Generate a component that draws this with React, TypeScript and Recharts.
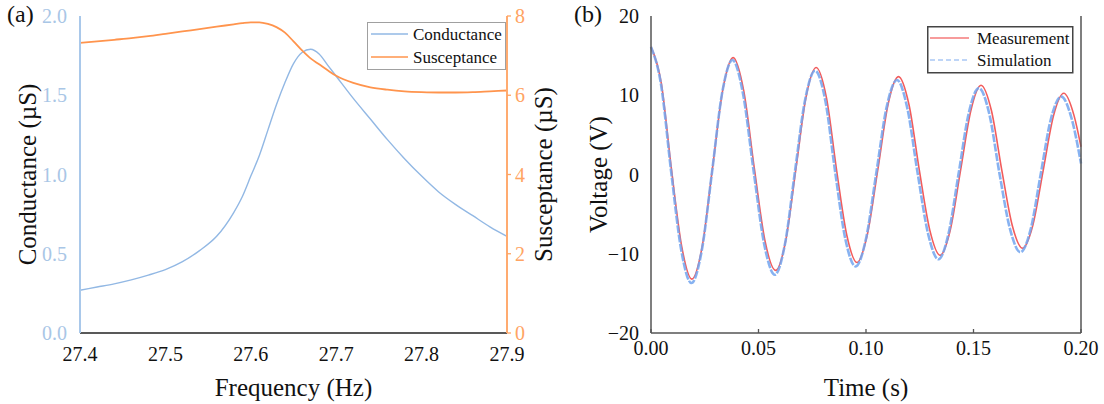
import { LineChart, Line, XAxis, YAxis, Legend, Label } from "recharts";

const FONT = '"Liberation Serif", "Times New Roman", serif';

// (a) admittance sweep
const freq = [
  27.4, 27.42, 27.44, 27.46, 27.48, 27.5, 27.52, 27.54, 27.56, 27.58, 27.59, 27.6, 27.61, 27.62,
  27.63, 27.64, 27.65, 27.66, 27.67, 27.68, 27.69, 27.7, 27.72, 27.74, 27.76, 27.78, 27.8, 27.82,
  27.84, 27.86, 27.88, 27.9,
];
const conductance = [
  0.27, 0.29, 0.31, 0.335, 0.365, 0.4, 0.45, 0.52, 0.61, 0.76, 0.86, 0.99, 1.12, 1.28, 1.44, 1.58,
  1.7, 1.77, 1.79, 1.76, 1.69, 1.62, 1.48, 1.35, 1.22, 1.1, 0.99, 0.89, 0.81, 0.74, 0.67, 0.61,
];
const susceptance = [
  7.32, 7.36, 7.4, 7.44, 7.49, 7.55, 7.61, 7.67, 7.73, 7.79, 7.82, 7.84, 7.84, 7.8, 7.72, 7.58,
  7.36, 7.13, 6.93, 6.78, 6.63, 6.49, 6.31, 6.2, 6.14, 6.1, 6.08, 6.07, 6.07, 6.08, 6.1, 6.12,
];
const freqTicks = [27.4, 27.5, 27.6, 27.7, 27.8, 27.9];
const freqInnerTicks = [27.5, 27.6, 27.7, 27.8];
const condTicks = [0, 0.5, 1, 1.5, 2];
const suscTicks = [0, 2, 4, 6, 8];

// (b) free decay
const measTime = [
  0, 0.0048, 0.0095, 0.0143, 0.019, 0.0238, 0.0286, 0.0334, 0.0382, 0.0431, 0.0481, 0.053, 0.058,
  0.0627, 0.0674, 0.0721, 0.0768, 0.0816, 0.0863, 0.0911, 0.0958, 0.1006, 0.1055, 0.1103, 0.1151,
  0.12, 0.1248, 0.1297, 0.1345, 0.1392, 0.144, 0.1488, 0.1535, 0.1583, 0.1632, 0.168, 0.1728,
  0.1776, 0.1824, 0.1872, 0.192, 0.1968, 0.2,
];
const measVolt = [
  16.1, 11.5, 0.7, -9.1, -13.2, -9.1, 0.8, 10.7, 14.75, 10.6, 0.7, -8.35, -12.1, -8.3, 0.7, 9.75,
  13.5, 9.7, 0.6, -7.7, -11.1, -7.6, 0.6, 8.9, 12.35, 8.8, 0.55, -7.05, -10.2, -7.0, 0.55, 8.1,
  11.26, 8.1, 0.5, -6.4, -9.3, -6.4, 0.5, 7.4, 10.25, 7.4, 3.5,
];
const simTime = [
  0, 0.0047, 0.0094, 0.0141, 0.0188, 0.0236, 0.0284, 0.0331, 0.0379, 0.0428, 0.0478, 0.0527,
  0.0576, 0.0623, 0.0669, 0.0716, 0.0763, 0.0811, 0.0857, 0.0904, 0.0952, 0.1, 0.1048, 0.1096,
  0.1144, 0.1192, 0.124, 0.1289, 0.1337, 0.1384, 0.1431, 0.1478, 0.1525, 0.1573, 0.1621, 0.167,
  0.1718, 0.1766, 0.1813, 0.186, 0.1908, 0.1956, 0.2,
];
const simVolt = [
  16.1, 11.3, 0.3, -9.6, -13.7, -9.6, 0.35, 10.3, 14.45, 10.2, 0.3, -8.85, -12.65, -8.8, 0.25, 9.3,
  13.1, 9.3, 0.25, -8.15, -11.6, -8.1, 0.2, 8.5, 11.93, 8.4, 0.2, -7.5, -10.7, -7.45, 0.15, 7.75,
  10.9, 7.7, 0.1, -6.9, -9.8, -6.9, 0.1, 7.0, 9.83, 7.1, 1.4,
];
const timeTicks = [0, 0.05, 0.1, 0.15, 0.2];
const timeInnerTicks = [0.05, 0.1, 0.15];
const voltTicks = [-20, -10, 0, 10, 20];
const voltInnerTicks = [-10, 0, 10];

const admittance = freq.map((f, i) => ({ f, g: conductance[i], b: susceptance[i] }));
const measured = measTime.map((t, i) => ({ t, v: measVolt[i] }));
const simulated = simTime.map((t, i) => ({ t, v: simVolt[i] }));

const tickFont = { fontFamily: FONT, fontSize: 20 };

const yTitle = (text: string, dx: number) => (props: any) => {
  const vb = props.viewBox || {};
  const cx = vb.x + dx;
  const cy = vb.y + vb.height / 2;
  return (
    <text
      x={cx}
      y={cy}
      transform={`rotate(-90 ${cx} ${cy})`}
      textAnchor="middle"
      dominantBaseline="central"
      fontFamily={FONT}
      fontSize={25}
      fill="#111"
    >
      {text}
    </text>
  );
};

const xTitle = (text: string, dy: number) => (props: any) => {
  const vb = props.viewBox || {};
  return (
    <text
      x={vb.x + vb.width / 2}
      y={vb.y + dy}
      textAnchor="middle"
      dominantBaseline="central"
      fontFamily={FONT}
      fontSize={25}
      fill="#111"
    >
      {text}
    </text>
  );
};

function LegendA() {
  return (
    <svg width={139} height={48} style={{ display: "block" }}>
      <rect x={0.5} y={0.5} width={138} height={47} fill="#fff" stroke="#a0a0a0" />
      <line x1={4} x2={41} y1={12} y2={12} stroke="#92b8e4" strokeWidth={1.3} />
      <line x1={4} x2={41} y1={35} y2={35} stroke="#ff944d" strokeWidth={1.6} />
      <text x={46} y={12} dominantBaseline="central" fontFamily={FONT} fontSize={17} fill="#111">
        Conductance
      </text>
      <text x={46} y={35} dominantBaseline="central" fontFamily={FONT} fontSize={17} fill="#111">
        Susceptance
      </text>
    </svg>
  );
}

function LegendB() {
  return (
    <svg width={147} height={48} style={{ display: "block" }}>
      <rect x={0.75} y={0.75} width={145} height={46} fill="#fff" stroke="#444" strokeWidth={1.5} />
      <line x1={3} x2={42} y1={12} y2={12} stroke="#f47a7a" strokeWidth={1.4} />
      <line x1={3} x2={42} y1={34} y2={34} stroke="#a9c8f5" strokeWidth={1.4} strokeDasharray="5 3" />
      <text x={50} y={12} dominantBaseline="central" fontFamily={FONT} fontSize={17} fill="#111">
        Measurement
      </text>
      <text x={50} y={34} dominantBaseline="central" fontFamily={FONT} fontSize={17} fill="#111">
        Simulation
      </text>
    </svg>
  );
}

const fmtMinus = (v: number) => (v < 0 ? "\u2212" + Math.abs(v) : String(v));

export default function App() {
  return (
    <div style={{ position: "absolute", left: 0, top: 0, width: 1104, height: 404, background: "#fff" }}>
      <div style={{ position: "absolute", left: 7, top: 1, fontFamily: FONT, fontSize: 24, color: "#111" }}>(a)</div>
      <div style={{ position: "absolute", left: 574, top: 1, fontFamily: FONT, fontSize: 24, color: "#111" }}>(b)</div>

      <div style={{ position: "absolute", left: 0, top: 0 }}>
        <LineChart width={560} height={404} data={admittance} margin={{ top: 16, right: 0, bottom: 0, left: 0 }}>
          <XAxis
            xAxisId="top"
            orientation="top"
            dataKey="f"
            type="number"
            domain={[27.4, 27.9]}
            ticks={freqInnerTicks}
            interval={0}
            height={0}
            tick={false}
            tickSize={-4}
            axisLine={{ stroke: "#222", strokeWidth: 1.5 }}
            tickLine={{ stroke: "#222", strokeWidth: 1.3 }}
          />
          <XAxis
            xAxisId="bottom"
            dataKey="f"
            type="number"
            domain={[27.4, 27.9]}
            ticks={freqTicks}
            interval={0}
            height={71}
            tickFormatter={(v: number) => v.toFixed(1)}
            tick={{ ...tickFont, fill: "#111" }}
            tickLine={false}
            tickMargin={8}
            axisLine={{ stroke: "#222", strokeWidth: 1.5 }}
          >
            <Label content={xTitle("Frequency (Hz)", 54)} />
          </XAxis>
          <YAxis
            yAxisId="g"
            dataKey="g"
            type="number"
            domain={[0, 2]}
            ticks={condTicks}
            interval={0}
            width={80}
            tickFormatter={(v: number) => v.toFixed(1)}
            tick={{ ...tickFont, fill: "#a9c6e6" }}
            tickLine={false}
            tickMargin={7}
            axisLine={{ stroke: "#a9c8ea", strokeWidth: 2 }}
          >
            <Label content={yTitle("Conductance (\u00b5S)", 27)} />
          </YAxis>
          <YAxis
            yAxisId="b"
            orientation="right"
            dataKey="b"
            type="number"
            domain={[0, 8]}
            ticks={suscTicks}
            interval={0}
            width={53}
            tick={{ ...tickFont, fill: "#ffa463" }}
            tickSize={4}
            tickMargin={4}
            tickLine={{ stroke: "#ffa463", strokeWidth: 1.3 }}
            axisLine={{ stroke: "#ffab70", strokeWidth: 2 }}
          >
            <Label content={yTitle("Susceptance (\u00b5S)", 36)} />
          </YAxis>
          <Line
            xAxisId="bottom"
            yAxisId="g"
            type="monotone"
            dataKey="g"
            name="Conductance"
            stroke="#92b8e4"
            strokeWidth={1.4}
            dot={false}
            isAnimationActive={false}
          />
          <Line
            xAxisId="bottom"
            yAxisId="b"
            type="monotone"
            dataKey="b"
            name="Susceptance"
            stroke="#ff944d"
            strokeWidth={1.8}
            dot={false}
            isAnimationActive={false}
          />
          <Legend
            layout="horizontal"
            verticalAlign="middle"
            align="center"
            content={() => <LegendA />}
            wrapperStyle={{ left: 367, top: 22, width: 139, height: 48 }}
          />
        </LineChart>
      </div>

      <div style={{ position: "absolute", left: 560, top: 0 }}>
        <LineChart width={544} height={404} margin={{ top: 16, right: 0, bottom: 0, left: 0 }}>
          <XAxis
            xAxisId="top"
            orientation="top"
            dataKey="t"
            type="number"
            domain={[0, 0.2]}
            ticks={timeInnerTicks}
            interval={0}
            height={0}
            tick={false}
            tickSize={-4}
            axisLine={{ stroke: "#555", strokeWidth: 1.5 }}
            tickLine={{ stroke: "#555", strokeWidth: 1.3 }}
          />
          <XAxis
            xAxisId="bottom"
            dataKey="t"
            type="number"
            domain={[0, 0.2]}
            ticks={timeTicks}
            interval={0}
            height={71}
            tickFormatter={(v: number) => v.toFixed(2)}
            tick={{ ...tickFont, fill: "#111" }}
            tickSize={-4}
            tickMargin={12}
            tickLine={{ stroke: "#555", strokeWidth: 1.3 }}
            axisLine={{ stroke: "#555", strokeWidth: 1.5 }}
          >
            <Label content={xTitle("Time (s)", 54)} />
          </XAxis>
          <YAxis
            yAxisId="v"
            dataKey="v"
            type="number"
            domain={[-20, 20]}
            ticks={voltTicks}
            interval={0}
            width={91}
            tickFormatter={fmtMinus}
            tick={{ ...tickFont, fill: "#111" }}
            tickLine={false}
            tickMargin={6}
            axisLine={{ stroke: "#555", strokeWidth: 1.5 }}
          >
            <Label content={yTitle("Voltage (V)", 38)} />
          </YAxis>
          <YAxis
            yAxisId="vr"
            orientation="right"
            type="number"
            domain={[-20, 20]}
            ticks={voltInnerTicks}
            interval={0}
            width={23}
            tick={false}
            tickSize={-4}
            tickLine={{ stroke: "#555", strokeWidth: 1.3 }}
            axisLine={{ stroke: "#555", strokeWidth: 1.5 }}
          />
          <Line
            data={measured}
            xAxisId="bottom"
            yAxisId="v"
            type="monotone"
            dataKey="v"
            name="Measurement"
            stroke="#f25c5c"
            strokeWidth={1.6}
            dot={false}
            isAnimationActive={false}
          />
          <Line
            data={simulated}
            xAxisId="bottom"
            yAxisId="v"
            type="monotone"
            dataKey="v"
            name="Simulation"
            stroke="#72a5ef"
            strokeOpacity={0.85}
            strokeWidth={2.6}
            strokeDasharray="8 1.5"
            dot={false}
            isAnimationActive={false}
          />
          <Legend
            layout="horizontal"
            verticalAlign="middle"
            align="center"
            content={() => <LegendB />}
            wrapperStyle={{ left: 367, top: 26, width: 147, height: 48 }}
          />
        </LineChart>
      </div>
    </div>
  );
}
